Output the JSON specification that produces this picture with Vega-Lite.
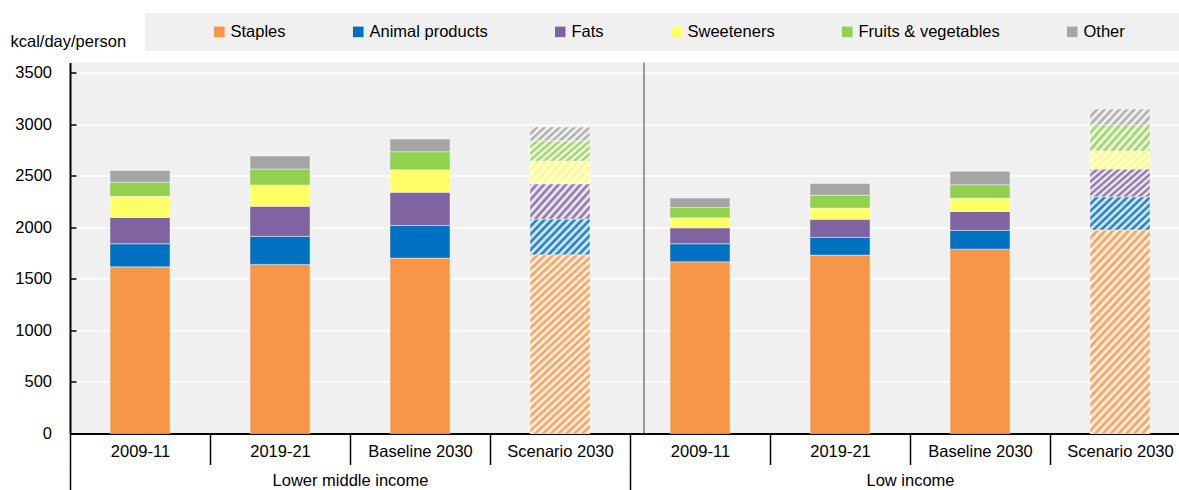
{
  "$schema": "https://vega.github.io/schema/vega-lite/v6.json",
  "width": 1109,
  "height": 371,
  "autosize": "none",
  "padding": {"left": 70, "top": 62.5, "right": 0, "bottom": 56.5},
  "background": "white",
  "config": {
    "font": "Liberation Sans",
    "view": {"fill": "#f0f0f0", "stroke": null},
    "axis": {"labelFont": "Liberation Sans", "titleFont": "Liberation Sans", "labelColor": "#000000", "titleColor": "#000000"}
  },
  "data": {"values": [
    {"g": "Lower middle income", "p": "2009-11", "gp": "Lower middle income|2009-11", "c": "Staples", "k": 1, "v": 1617},
    {"g": "Lower middle income", "p": "2009-11", "gp": "Lower middle income|2009-11", "c": "Animal products", "k": 2, "v": 224},
    {"g": "Lower middle income", "p": "2009-11", "gp": "Lower middle income|2009-11", "c": "Fats", "k": 3, "v": 256},
    {"g": "Lower middle income", "p": "2009-11", "gp": "Lower middle income|2009-11", "c": "Sweeteners", "k": 4, "v": 204},
    {"g": "Lower middle income", "p": "2009-11", "gp": "Lower middle income|2009-11", "c": "Fruits & vegetables", "k": 5, "v": 136},
    {"g": "Lower middle income", "p": "2009-11", "gp": "Lower middle income|2009-11", "c": "Other", "k": 6, "v": 116},
    {"g": "Lower middle income", "p": "2019-21", "gp": "Lower middle income|2019-21", "c": "Staples", "k": 1, "v": 1641},
    {"g": "Lower middle income", "p": "2019-21", "gp": "Lower middle income|2019-21", "c": "Animal products", "k": 2, "v": 272},
    {"g": "Lower middle income", "p": "2019-21", "gp": "Lower middle income|2019-21", "c": "Fats", "k": 3, "v": 291},
    {"g": "Lower middle income", "p": "2019-21", "gp": "Lower middle income|2019-21", "c": "Sweeteners", "k": 4, "v": 207},
    {"g": "Lower middle income", "p": "2019-21", "gp": "Lower middle income|2019-21", "c": "Fruits & vegetables", "k": 5, "v": 155},
    {"g": "Lower middle income", "p": "2019-21", "gp": "Lower middle income|2019-21", "c": "Other", "k": 6, "v": 126},
    {"g": "Lower middle income", "p": "Baseline 2030", "gp": "Lower middle income|Baseline 2030", "c": "Staples", "k": 1, "v": 1702},
    {"g": "Lower middle income", "p": "Baseline 2030", "gp": "Lower middle income|Baseline 2030", "c": "Animal products", "k": 2, "v": 317},
    {"g": "Lower middle income", "p": "Baseline 2030", "gp": "Lower middle income|Baseline 2030", "c": "Fats", "k": 3, "v": 321},
    {"g": "Lower middle income", "p": "Baseline 2030", "gp": "Lower middle income|Baseline 2030", "c": "Sweeteners", "k": 4, "v": 219},
    {"g": "Lower middle income", "p": "Baseline 2030", "gp": "Lower middle income|Baseline 2030", "c": "Fruits & vegetables", "k": 5, "v": 175},
    {"g": "Lower middle income", "p": "Baseline 2030", "gp": "Lower middle income|Baseline 2030", "c": "Other", "k": 6, "v": 123},
    {"g": "Lower middle income", "p": "Scenario 2030", "gp": "Lower middle income|Scenario 2030", "c": "Staples", "k": 1, "v": 1734},
    {"g": "Lower middle income", "p": "Scenario 2030", "gp": "Lower middle income|Scenario 2030", "c": "Animal products", "k": 2, "v": 347},
    {"g": "Lower middle income", "p": "Scenario 2030", "gp": "Lower middle income|Scenario 2030", "c": "Fats", "k": 3, "v": 342},
    {"g": "Lower middle income", "p": "Scenario 2030", "gp": "Lower middle income|Scenario 2030", "c": "Sweeteners", "k": 4, "v": 221},
    {"g": "Lower middle income", "p": "Scenario 2030", "gp": "Lower middle income|Scenario 2030", "c": "Fruits & vegetables", "k": 5, "v": 197},
    {"g": "Lower middle income", "p": "Scenario 2030", "gp": "Lower middle income|Scenario 2030", "c": "Other", "k": 6, "v": 133},
    {"g": "Low income", "p": "2009-11", "gp": "Low income|2009-11", "c": "Staples", "k": 1, "v": 1666},
    {"g": "Low income", "p": "2009-11", "gp": "Low income|2009-11", "c": "Animal products", "k": 2, "v": 175},
    {"g": "Low income", "p": "2009-11", "gp": "Low income|2009-11", "c": "Fats", "k": 3, "v": 155},
    {"g": "Low income", "p": "2009-11", "gp": "Low income|2009-11", "c": "Sweeteners", "k": 4, "v": 97},
    {"g": "Low income", "p": "2009-11", "gp": "Low income|2009-11", "c": "Fruits & vegetables", "k": 5, "v": 101},
    {"g": "Low income", "p": "2009-11", "gp": "Low income|2009-11", "c": "Other", "k": 6, "v": 91},
    {"g": "Low income", "p": "2019-21", "gp": "Low income|2019-21", "c": "Staples", "k": 1, "v": 1731},
    {"g": "Low income", "p": "2019-21", "gp": "Low income|2019-21", "c": "Animal products", "k": 2, "v": 172},
    {"g": "Low income", "p": "2019-21", "gp": "Low income|2019-21", "c": "Fats", "k": 3, "v": 175},
    {"g": "Low income", "p": "2019-21", "gp": "Low income|2019-21", "c": "Sweeteners", "k": 4, "v": 109},
    {"g": "Low income", "p": "2019-21", "gp": "Low income|2019-21", "c": "Fruits & vegetables", "k": 5, "v": 124},
    {"g": "Low income", "p": "2019-21", "gp": "Low income|2019-21", "c": "Other", "k": 6, "v": 116},
    {"g": "Low income", "p": "Baseline 2030", "gp": "Low income|Baseline 2030", "c": "Staples", "k": 1, "v": 1789},
    {"g": "Low income", "p": "Baseline 2030", "gp": "Low income|Baseline 2030", "c": "Animal products", "k": 2, "v": 182},
    {"g": "Low income", "p": "Baseline 2030", "gp": "Low income|Baseline 2030", "c": "Fats", "k": 3, "v": 184},
    {"g": "Low income", "p": "Baseline 2030", "gp": "Low income|Baseline 2030", "c": "Sweeteners", "k": 4, "v": 127},
    {"g": "Low income", "p": "Baseline 2030", "gp": "Low income|Baseline 2030", "c": "Fruits & vegetables", "k": 5, "v": 132},
    {"g": "Low income", "p": "Baseline 2030", "gp": "Low income|Baseline 2030", "c": "Other", "k": 6, "v": 130},
    {"g": "Low income", "p": "Scenario 2030", "gp": "Low income|Scenario 2030", "c": "Staples", "k": 1, "v": 1974},
    {"g": "Low income", "p": "Scenario 2030", "gp": "Low income|Scenario 2030", "c": "Animal products", "k": 2, "v": 323},
    {"g": "Low income", "p": "Scenario 2030", "gp": "Low income|Scenario 2030", "c": "Fats", "k": 3, "v": 269},
    {"g": "Low income", "p": "Scenario 2030", "gp": "Low income|Scenario 2030", "c": "Sweeteners", "k": 4, "v": 175},
    {"g": "Low income", "p": "Scenario 2030", "gp": "Low income|Scenario 2030", "c": "Fruits & vegetables", "k": 5, "v": 255},
    {"g": "Low income", "p": "Scenario 2030", "gp": "Low income|Scenario 2030", "c": "Other", "k": 6, "v": 153}
  ]},
  "layer": [
    {
      "layer": [
        {
          "mark": {"type": "bar", "stroke": "#ffffff", "strokeWidth": 0.6, "strokeOpacity": 0.7},
          "encoding": {
            "x": {
              "field": "gp", "type": "nominal", "sort": null,
              "scale": {"type": "band", "domain": ["Lower middle income|2009-11", "Lower middle income|2019-21", "Lower middle income|Baseline 2030", "Lower middle income|Scenario 2030", "Low income|2009-11", "Low income|2019-21", "Low income|Baseline 2030", "Low income|Scenario 2030"], "range": [0, 1120], "paddingInner": 0.5714, "paddingOuter": 0.2857},
              "axis": {"orient": "bottom", "title": null, "labelExpr": "split(datum.label, '|')[1]", "labelAngle": 0, "labelFontSize": 16.5, "labelPadding": -21.5, "labelBaseline": "top", "domain": true, "domainColor": "#000000", "domainWidth": 2, "ticks": true, "tickOffset": -70, "labelOffset": 70, "tickSize": 31, "tickColor": "#000000", "tickWidth": 1.5, "grid": false, "labelLimit": 300}
            },
            "y": {
              "field": "v", "type": "quantitative", "stack": "zero",
              "scale": {"domain": [0, 3600], "nice": false},
              "axis": {"values": [0, 500, 1000, 1500, 2000, 2500, 3000, 3500], "format": "d", "title": "kcal/day/person", "titleAngle": 0, "titleAlign": "left", "titleBaseline": "alphabetic", "titleX": -60, "titleY": -16.5, "titleFontSize": 16.5, "titleFontWeight": "normal", "labelFontSize": 16.5, "tickSize": -6, "labelPadding": 24.5, "tickColor": "#000000", "tickWidth": 1.5, "domainColor": "#000000", "domainWidth": 2, "grid": true, "gridColor": "#ffffff", "gridWidth": 1.5}
            },
            "order": {"field": "k", "type": "quantitative", "sort": "ascending"},
            "color": {
              "field": "c", "type": "nominal",
              "sort": ["Staples", "Animal products", "Fats", "Sweeteners", "Fruits & vegetables", "Other"],
              "scale": {"range": ["#F79646", "#0070C0", "#8064A2", "#FFFF66", "#92D050", "#A5A5A5"]},
              "legend": {"orient": "none", "legendX": 75, "legendY": -49.5, "direction": "horizontal", "columns": 6, "fillColor": "#f0f0f0", "padding": 10.5, "title": "\u00a0", "titleOrient": "left", "titlePadding": 55.5, "titleFontSize": 16.5, "symbolType": "square", "symbolSize": 112, "symbolStrokeWidth": 0, "labelFont": "Liberation Sans", "labelFontSize": 16.5, "labelColor": "#000000", "labelOffset": 3, "columnPadding": 64, "labelLimit": 400, "labelExpr": "datum.label == 'Other' ? 'Other\u00a0\u00a0\u00a0\u00a0\u00a0\u00a0\u00a0\u2800' : datum.label"}
            }
          }
        },
        {
          "transform": [{"filter": "datum.p === 'Scenario 2030'"}],
          "mark": {"type": "bar", "stroke": "#ffffff", "strokeWidth": 0.6, "strokeOpacity": 0.7},
          "encoding": {
            "x": {"field": "gp", "type": "nominal", "sort": null},
            "y": {"field": "v", "type": "quantitative", "stack": "zero"},
            "order": {"field": "k", "type": "quantitative", "sort": "ascending"},
            "color": {"field": "c", "type": "nominal", "sort": ["Staples", "Animal products", "Fats", "Sweeteners", "Fruits & vegetables", "Other"]},
            "fill": {
              "condition": [
                {"test": "datum.c === 'Staples'", "value": {"gradient": "linear", "x1": 0, "y1": 0, "x2": 0.3762, "y2": 1.1962, "stops": [
                  {"offset": 0, "color": "#F79646"}, {"offset": 0.015625, "color": "#ffffff"}, {"offset": 0.03125, "color": "#F79646"}, {"offset": 0.046875, "color": "#ffffff"},
                  {"offset": 0.0625, "color": "#F79646"}, {"offset": 0.078125, "color": "#ffffff"}, {"offset": 0.09375, "color": "#F79646"}, {"offset": 0.109375, "color": "#ffffff"},
                  {"offset": 0.125, "color": "#F79646"}, {"offset": 0.140625, "color": "#ffffff"}, {"offset": 0.15625, "color": "#F79646"}, {"offset": 0.171875, "color": "#ffffff"},
                  {"offset": 0.1875, "color": "#F79646"}, {"offset": 0.203125, "color": "#ffffff"}, {"offset": 0.21875, "color": "#F79646"}, {"offset": 0.234375, "color": "#ffffff"},
                  {"offset": 0.25, "color": "#F79646"}, {"offset": 0.265625, "color": "#ffffff"}, {"offset": 0.28125, "color": "#F79646"}, {"offset": 0.296875, "color": "#ffffff"},
                  {"offset": 0.3125, "color": "#F79646"}, {"offset": 0.328125, "color": "#ffffff"}, {"offset": 0.34375, "color": "#F79646"}, {"offset": 0.359375, "color": "#ffffff"},
                  {"offset": 0.375, "color": "#F79646"}, {"offset": 0.390625, "color": "#ffffff"}, {"offset": 0.40625, "color": "#F79646"}, {"offset": 0.421875, "color": "#ffffff"},
                  {"offset": 0.4375, "color": "#F79646"}, {"offset": 0.453125, "color": "#ffffff"}, {"offset": 0.46875, "color": "#F79646"}, {"offset": 0.484375, "color": "#ffffff"},
                  {"offset": 0.5, "color": "#F79646"}, {"offset": 0.515625, "color": "#ffffff"}, {"offset": 0.53125, "color": "#F79646"}, {"offset": 0.546875, "color": "#ffffff"},
                  {"offset": 0.5625, "color": "#F79646"}, {"offset": 0.578125, "color": "#ffffff"}, {"offset": 0.59375, "color": "#F79646"}, {"offset": 0.609375, "color": "#ffffff"},
                  {"offset": 0.625, "color": "#F79646"}, {"offset": 0.640625, "color": "#ffffff"}, {"offset": 0.65625, "color": "#F79646"}, {"offset": 0.671875, "color": "#ffffff"},
                  {"offset": 0.6875, "color": "#F79646"}, {"offset": 0.703125, "color": "#ffffff"}, {"offset": 0.71875, "color": "#F79646"}, {"offset": 0.734375, "color": "#ffffff"},
                  {"offset": 0.75, "color": "#F79646"}, {"offset": 0.765625, "color": "#ffffff"}, {"offset": 0.78125, "color": "#F79646"}, {"offset": 0.796875, "color": "#ffffff"},
                  {"offset": 0.8125, "color": "#F79646"}, {"offset": 0.828125, "color": "#ffffff"}, {"offset": 0.84375, "color": "#F79646"}, {"offset": 0.859375, "color": "#ffffff"},
                  {"offset": 0.875, "color": "#F79646"}, {"offset": 0.890625, "color": "#ffffff"}, {"offset": 0.90625, "color": "#F79646"}, {"offset": 0.921875, "color": "#ffffff"},
                  {"offset": 0.9375, "color": "#F79646"}, {"offset": 0.953125, "color": "#ffffff"}, {"offset": 0.96875, "color": "#F79646"}, {"offset": 0.984375, "color": "#ffffff"},
                  {"offset": 1, "color": "#F79646"}]}},
                {"test": "datum.c === 'Animal products'", "value": {"gradient": "linear", "x1": 0, "y1": 0, "x2": 1.1837, "y2": 0.6807, "stops": [
                  {"offset": 0, "color": "#0070C0"}, {"offset": 0.04, "color": "#ffffff"}, {"offset": 0.08, "color": "#0070C0"}, {"offset": 0.12, "color": "#ffffff"},
                  {"offset": 0.16, "color": "#0070C0"}, {"offset": 0.2, "color": "#ffffff"}, {"offset": 0.24, "color": "#0070C0"}, {"offset": 0.28, "color": "#ffffff"},
                  {"offset": 0.32, "color": "#0070C0"}, {"offset": 0.36, "color": "#ffffff"}, {"offset": 0.4, "color": "#0070C0"}, {"offset": 0.44, "color": "#ffffff"},
                  {"offset": 0.48, "color": "#0070C0"}, {"offset": 0.52, "color": "#ffffff"}, {"offset": 0.56, "color": "#0070C0"}, {"offset": 0.6, "color": "#ffffff"},
                  {"offset": 0.64, "color": "#0070C0"}, {"offset": 0.68, "color": "#ffffff"}, {"offset": 0.72, "color": "#0070C0"}, {"offset": 0.76, "color": "#ffffff"},
                  {"offset": 0.8, "color": "#0070C0"}, {"offset": 0.84, "color": "#ffffff"}, {"offset": 0.88, "color": "#0070C0"}, {"offset": 0.92, "color": "#ffffff"},
                  {"offset": 0.96, "color": "#0070C0"}, {"offset": 1, "color": "#ffffff"}]}},
                {"test": "datum.c === 'Fats'", "value": {"gradient": "linear", "x1": 0, "y1": 0, "x2": 1.1957, "y2": 0.6267, "stops": [
                  {"offset": 0, "color": "#8064A2"}, {"offset": 0.04, "color": "#ffffff"}, {"offset": 0.08, "color": "#8064A2"}, {"offset": 0.12, "color": "#ffffff"},
                  {"offset": 0.16, "color": "#8064A2"}, {"offset": 0.2, "color": "#ffffff"}, {"offset": 0.24, "color": "#8064A2"}, {"offset": 0.28, "color": "#ffffff"},
                  {"offset": 0.32, "color": "#8064A2"}, {"offset": 0.36, "color": "#ffffff"}, {"offset": 0.4, "color": "#8064A2"}, {"offset": 0.44, "color": "#ffffff"},
                  {"offset": 0.48, "color": "#8064A2"}, {"offset": 0.52, "color": "#ffffff"}, {"offset": 0.56, "color": "#8064A2"}, {"offset": 0.6, "color": "#ffffff"},
                  {"offset": 0.64, "color": "#8064A2"}, {"offset": 0.68, "color": "#ffffff"}, {"offset": 0.72, "color": "#8064A2"}, {"offset": 0.76, "color": "#ffffff"},
                  {"offset": 0.8, "color": "#8064A2"}, {"offset": 0.84, "color": "#ffffff"}, {"offset": 0.88, "color": "#8064A2"}, {"offset": 0.92, "color": "#ffffff"},
                  {"offset": 0.96, "color": "#8064A2"}, {"offset": 1, "color": "#ffffff"}]}},
                {"test": "datum.c === 'Sweeteners'", "value": {"gradient": "linear", "x1": 0, "y1": 0, "x2": 1.2012, "y2": 0.4084, "stops": [
                  {"offset": 0, "color": "#FFFF66"}, {"offset": 0.05, "color": "#ffffff"}, {"offset": 0.1, "color": "#FFFF66"}, {"offset": 0.15, "color": "#ffffff"},
                  {"offset": 0.2, "color": "#FFFF66"}, {"offset": 0.25, "color": "#ffffff"}, {"offset": 0.3, "color": "#FFFF66"}, {"offset": 0.35, "color": "#ffffff"},
                  {"offset": 0.4, "color": "#FFFF66"}, {"offset": 0.45, "color": "#ffffff"}, {"offset": 0.5, "color": "#FFFF66"}, {"offset": 0.55, "color": "#ffffff"},
                  {"offset": 0.6, "color": "#FFFF66"}, {"offset": 0.65, "color": "#ffffff"}, {"offset": 0.7, "color": "#FFFF66"}, {"offset": 0.75, "color": "#ffffff"},
                  {"offset": 0.8, "color": "#FFFF66"}, {"offset": 0.85, "color": "#ffffff"}, {"offset": 0.9, "color": "#FFFF66"}, {"offset": 0.95, "color": "#ffffff"},
                  {"offset": 1, "color": "#FFFF66"}]}},
                {"test": "datum.c === 'Fruits & vegetables'", "value": {"gradient": "linear", "x1": 0, "y1": 0, "x2": 1.2064, "y2": 0.4685, "stops": [
                  {"offset": 0, "color": "#92D050"}, {"offset": 0.045, "color": "#ffffff"}, {"offset": 0.09, "color": "#92D050"}, {"offset": 0.135, "color": "#ffffff"},
                  {"offset": 0.18, "color": "#92D050"}, {"offset": 0.225, "color": "#ffffff"}, {"offset": 0.27, "color": "#92D050"}, {"offset": 0.315, "color": "#ffffff"},
                  {"offset": 0.36, "color": "#92D050"}, {"offset": 0.405, "color": "#ffffff"}, {"offset": 0.45, "color": "#92D050"}, {"offset": 0.495, "color": "#ffffff"},
                  {"offset": 0.54, "color": "#92D050"}, {"offset": 0.585, "color": "#ffffff"}, {"offset": 0.63, "color": "#92D050"}, {"offset": 0.675, "color": "#ffffff"},
                  {"offset": 0.72, "color": "#92D050"}, {"offset": 0.765, "color": "#ffffff"}, {"offset": 0.81, "color": "#92D050"}, {"offset": 0.855, "color": "#ffffff"},
                  {"offset": 0.9, "color": "#92D050"}, {"offset": 0.945, "color": "#ffffff"}, {"offset": 0.99, "color": "#92D050"}]}},
                {"test": "datum.c === 'Other'", "value": {"gradient": "linear", "x1": 0, "y1": 0, "x2": 1.1748, "y2": 0.2888, "stops": [
                  {"offset": 0, "color": "#A5A5A5"}, {"offset": 0.05, "color": "#ffffff"}, {"offset": 0.1, "color": "#A5A5A5"}, {"offset": 0.15, "color": "#ffffff"},
                  {"offset": 0.2, "color": "#A5A5A5"}, {"offset": 0.25, "color": "#ffffff"}, {"offset": 0.3, "color": "#A5A5A5"}, {"offset": 0.35, "color": "#ffffff"},
                  {"offset": 0.4, "color": "#A5A5A5"}, {"offset": 0.45, "color": "#ffffff"}, {"offset": 0.5, "color": "#A5A5A5"}, {"offset": 0.55, "color": "#ffffff"},
                  {"offset": 0.6, "color": "#A5A5A5"}, {"offset": 0.65, "color": "#ffffff"}, {"offset": 0.7, "color": "#A5A5A5"}, {"offset": 0.75, "color": "#ffffff"},
                  {"offset": 0.8, "color": "#A5A5A5"}, {"offset": 0.85, "color": "#ffffff"}, {"offset": 0.9, "color": "#A5A5A5"}, {"offset": 0.95, "color": "#ffffff"},
                  {"offset": 1, "color": "#A5A5A5"}]}}
              ],
              "value": "#ffffff"
            }
          }
        },
        {
          "data": {"values": [{"g": "Low income"}]},
          "mark": {"type": "rule", "color": "#404040", "strokeWidth": 1},
          "encoding": {
            "x": {"datum": "Low income|2009-11", "type": "nominal", "bandPosition": -0.4333}
          }
        }
      ]
    },
    {
      "mark": {"type": "text"},
      "encoding": {
        "x": {
          "field": "g", "type": "nominal", "sort": null,
          "scale": {"type": "band", "domain": ["Lower middle income", "Low income"], "range": [0, 1120], "paddingInner": 0, "paddingOuter": 0},
          "axis": {"orient": "bottom", "offset": 30.5, "title": null, "domain": false, "ticks": true, "tickBand": "extent", "tickSize": 26, "tickColor": "#000000", "tickWidth": 1.5, "labelAngle": 0, "labelFontSize": 16.5, "labelPadding": -17.5, "labelBaseline": "top", "grid": false, "labelLimit": 400}
        },
        "text": {"value": ""}
      }
    }
  ],
  "resolve": {"scale": {"x": "independent"}, "axis": {"x": "independent"}}
}
